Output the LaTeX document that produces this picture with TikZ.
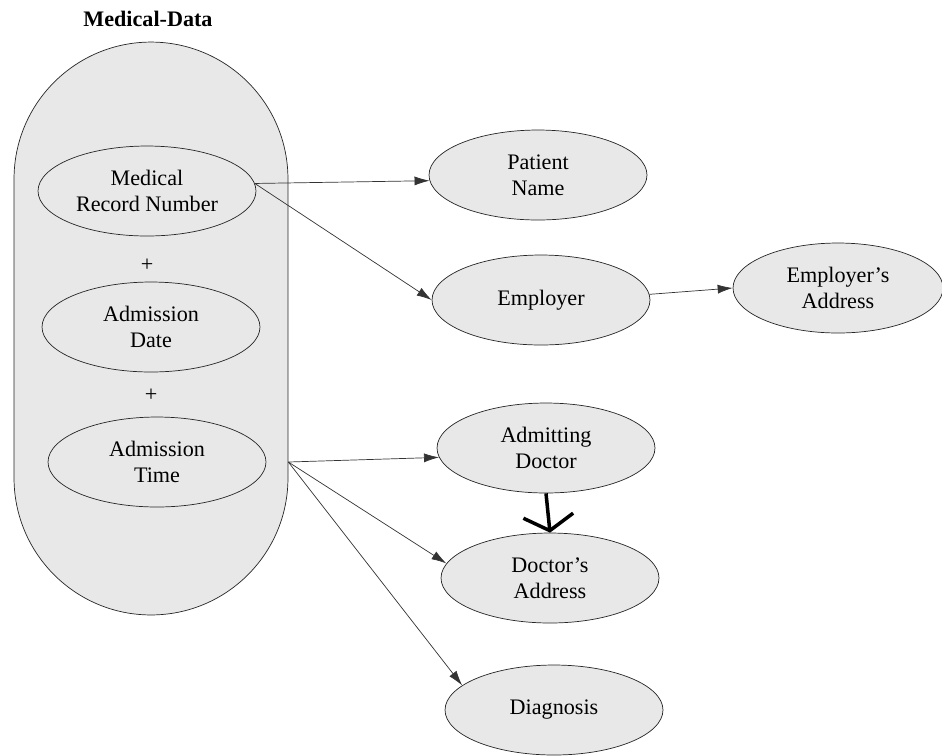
\documentclass[tikz,border=0pt]{standalone}
\usepackage{fontspec}
\setmainfont{Liberation Serif}
\usetikzlibrary{arrows.meta,shapes.geometric}

\begin{document}
\begin{tikzpicture}[x=0.02cm, y=-0.02cm,
    % Styles
    attr/.style={draw=black!85, fill=black!9, ellipse, inner sep=0pt, minimum width=4.36cm, minimum height=1.8cm, align=center, font=\fontsize{12.6}{15}\selectfont},
    group/.style={draw=black!85, fill=black!9, rounded corners=2.74cm, minimum width=5.48cm, minimum height=11.46cm},
    plus/.style={font=\fontsize{12.6}{15}\selectfont},
    link/.style={-{Latex[length=3mm, width=1.8mm]}, black!80},
    hand-arrow/.style={-{Straight Barb[length=3mm, width=10mm]}, line width=2pt, black},
]
\useasboundingbox (0,0) rectangle (942,755);

% Title
\node[font=\fontsize{12.6}{15}\selectfont\bfseries] (title) at (148,19) {Medical-Data};

% Composite key group
\node[group] (pill) at (151,328.5) {};
\node[attr] (mrn) at (147,191) {Medical\\Record Number};
\node[plus] (plus1) at (147,265) {+};
\node[attr] (adate) at (151,327) {Admission\\Date};
\node[plus] (plus2) at (151,395) {+};
\node[attr] (atime) at (157,462) {Admission\\Time};
\coordinate (fan) at (pill.east |- atime.east);

% Dependent attributes
\node[attr] (pname) at (538,175) {Patient\\Name};
\node[attr] (empl) at (541,300) {Employer};
\node[attr, minimum width=4.2cm] (eaddr) at (838,288) {Employer's\\Address};
\node[attr] (adoc) at (546,448) {Admitting\\Doctor};
\node[attr] (daddr) at (550,578) {Doctor's\\Address};
\node[attr] (diag) at (554,710) {Diagnosis};

% Arrows
\draw[link] (mrn.4) -- (pname.183);
\draw[link] (mrn.4) -- (empl.west);
\draw[link] (empl.3) -- (eaddr.west);
\draw[link] (fan) -- (adoc.185);
\draw[link] (fan) -- (daddr.172);
\draw[link] (fan) -- (diag.165);
\draw[hand-arrow] (adoc.south) -- (daddr.north);

\end{tikzpicture}
\end{document}
